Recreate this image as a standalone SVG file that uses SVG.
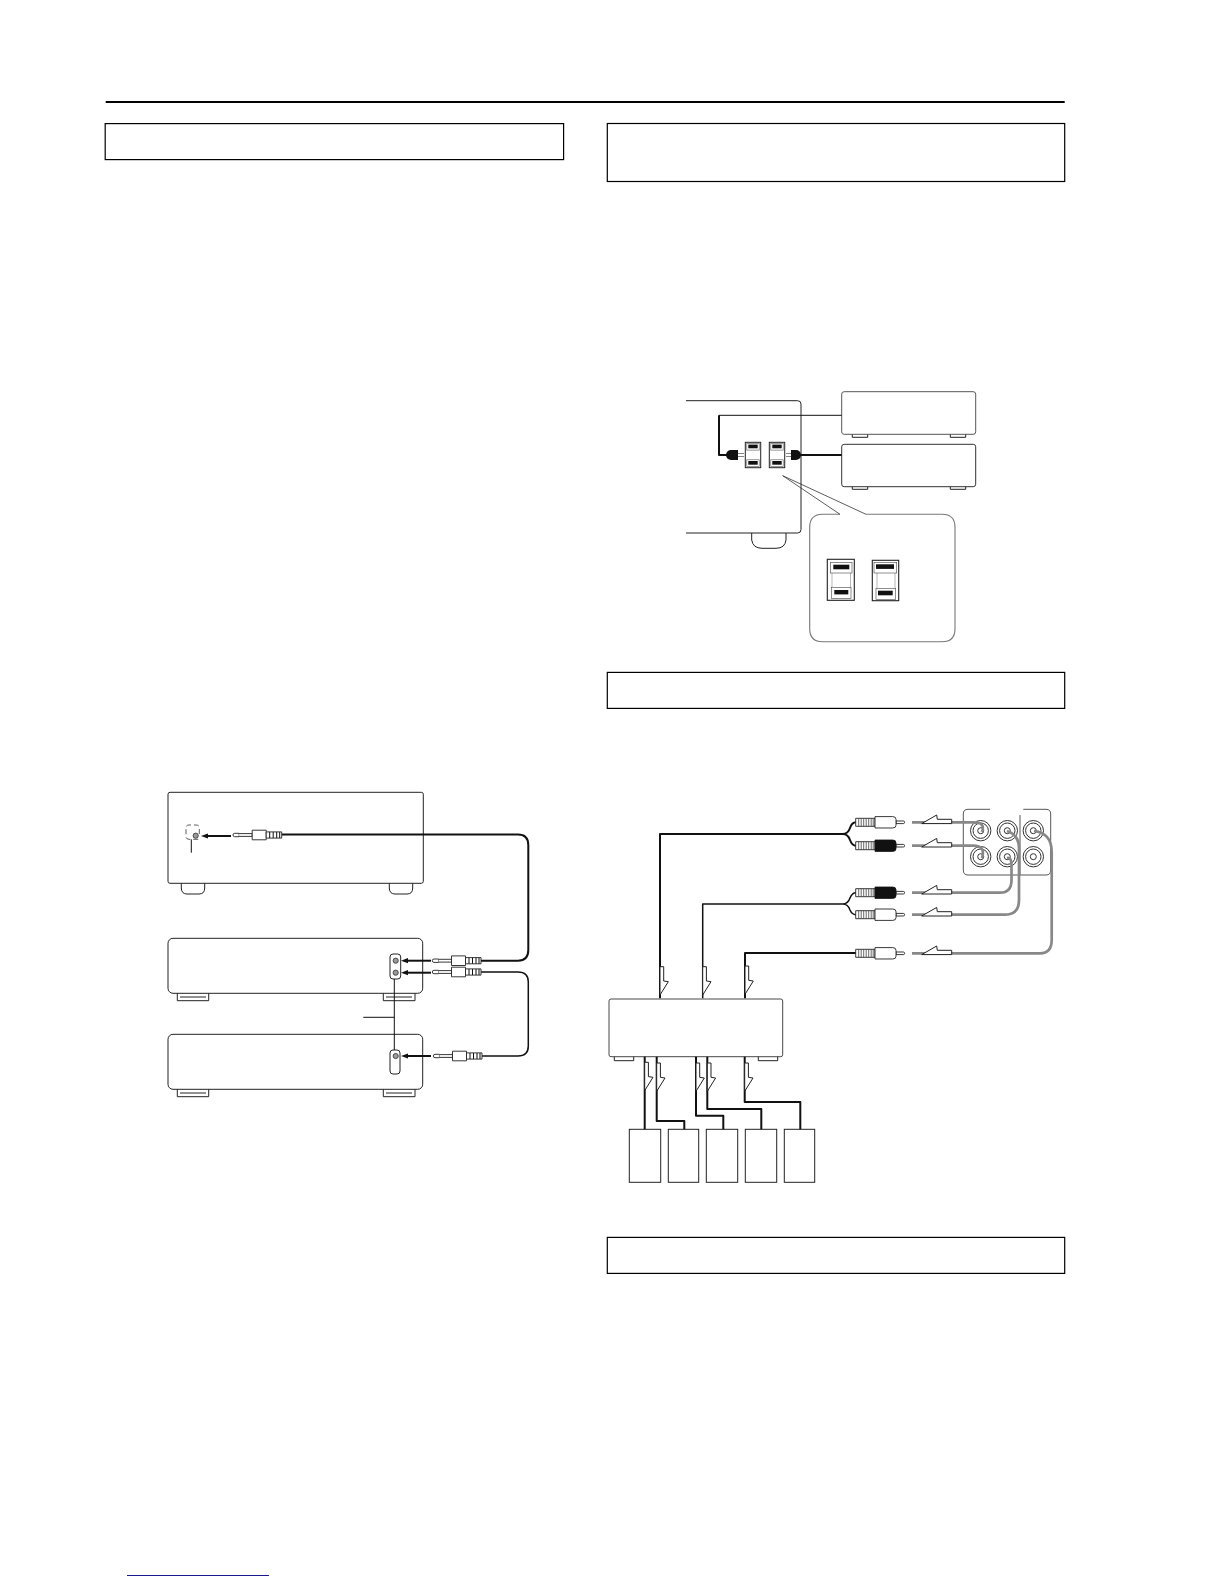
<svg xmlns="http://www.w3.org/2000/svg" width="1224" height="1584" viewBox="0 0 1224 1584">
<style>
.hd{fill:#fff;stroke:#000;stroke-width:1.2}
.b{fill:#fff;stroke:#222;stroke-width:1}
.t{fill:#fff;stroke:#222;stroke-width:.9}
.k{fill:none;stroke:#111;stroke-width:2;stroke-linejoin:round}
.th{fill:none;stroke:#111;stroke-width:1}
.g{fill:none;stroke:#888;stroke-width:2.7}
.fl{fill:#fff;stroke:#222;stroke-width:1;stroke-linejoin:round}
.ar{fill:#111;stroke:none}
</style>
<defs>
<g id="jplug">
<path class="t" d="M0,-1.7H4.5V1.7H0A1.7,1.7 0 0 1 0,-1.7Z"/>
<path class="t" d="M4.5,-1.4H17.5V1.4H4.5"/>
<path class="t" d="M17.5,-4.8H31.5V4.8H17.5Z"/>
<path class="t" d="M31.5,-3.1H47V3.1H31.5Z"/>
<path fill="none" stroke="#111" stroke-width="1" d="M35,-3V3M38.5,-3V3M42,-3V3M45,-3V3"/>
</g>
<g id="jarrow"><path class="ar" d="M0,-1H26V1H0Z"/><path class="ar" d="M-4,0L3,-2.6V2.6Z"/></g>
<g id="ribs">
<path class="t" d="M0,-4H19.3V4H0Z"/>
<path fill="none" stroke="#444" stroke-width=".8" d="M3,-4V4M5.5,-4V4M8,-4V4M10.5,-4V4M13,-4V4M15.5,-4V4M17.5,-4V4"/>
<path class="t" d="M40.3,-1.3H47.6A1.3,1.3 0 0 1 47.6,1.3H40.3Z"/>
</g>
<g id="rcaw"><use href="#ribs"/><path class="t" d="M19.3,-5.7H37Q40.3,-5.7 40.3,-3V3Q40.3,5.7 37,5.7H19.3Z"/></g>
<g id="rcab"><use href="#ribs"/><path fill="#111" stroke="#111" stroke-width=".8" d="M19.3,-5.7H37Q40.3,-5.7 40.3,-3V3Q40.3,5.7 37,5.7H19.3Z"/></g>
<polygon id="flh" class="fl" points="921.7,1.3 936.7,-7.3 937.3,-3 951.7,-3 951.7,1.3"/>
<polygon id="flv" class="fl" points="0,0 3.7,0 3.7,14.3 8.3,15 0,28.3"/>
<g id="jack"><circle r="10.2" fill="#fff" stroke="#333" stroke-width="1"/><circle r="7.7" fill="#fff" stroke="#333" stroke-width="1"/><circle r="3" fill="#fff" stroke="#333" stroke-width="1"/></g>
<g id="minisw">
<rect x="0" y="0" width="15.4" height="25.4" fill="#fff" stroke="#222" stroke-width="1"/>
<rect x="1.5" y="1.2" width="12.4" height="6.6" fill="#fff" stroke="#555" stroke-width=".6"/>
<rect x="1.5" y="17.5" width="12.4" height="6.6" fill="#fff" stroke="#555" stroke-width=".6"/>
<rect x="3" y="2.3" width="9.4" height="3.7" fill="#111"/>
<rect x="3" y="18.7" width="9.4" height="3.7" fill="#111"/>
</g>
</defs>
<rect width="1224" height="1584" fill="#fff"/>

<g id="page-rule"><rect x="105.7" y="101" width="959" height="2" fill="#000"/></g>
<g id="header-1"><rect class="hd" x="105.2" y="123.6" width="458.4" height="36"/></g>
<g id="header-2"><rect class="hd" x="607.3" y="123.5" width="457.4" height="58"/></g>
<g id="header-3"><rect class="hd" x="607.3" y="672.4" width="457.4" height="36"/></g>
<g id="header-4"><rect class="hd" x="607.3" y="1237.4" width="457.4" height="36"/></g>

<g id="unit-a">
<path class="b" d="M181.3,883V888Q181.5,894 187,894H199Q204.7,894 204.7,888V883M389.3,883V888Q389.5,894 395,894H407Q412.7,894 412.7,888V883"/>
<rect class="b" x="168" y="792.3" width="255.3" height="91" rx="2"/>
<path fill="none" stroke="#333" stroke-width=".8" stroke-dasharray="5 3" d="M199.3,834V828Q199.3,825 196,825H189Q186,825 186,828V836Q186,839.3 189,839.3H199.3"/>
<circle cx="195.7" cy="835.7" r="2.6" fill="#999" stroke="#333" stroke-width=".8"/>
<path class="th" d="M191.3,839.3V852.7"/>
</g>
<g id="unit-b">
<path class="b" d="M177.3,993V1000.7H208.7V993M383.3,993V1000.7H415V993"/>
<path class="b" d="M180,997H206M386,997H412"/>
<rect class="b" x="168" y="938.3" width="254.7" height="55" rx="5"/>
<rect class="b" x="390" y="954" width="10.7" height="25" rx="3"/>
<circle cx="395.7" cy="960.7" r="2.6" fill="#999" stroke="#333" stroke-width=".8"/>
<circle cx="395.7" cy="972.7" r="2.6" fill="#999" stroke="#333" stroke-width=".8"/>
</g>
<g id="unit-c">
<path class="b" d="M177.3,1089V1096.7H208.7V1089M383.3,1089V1096.7H415V1089"/>
<path class="b" d="M180,1093H206M386,1093H412"/>
<rect class="b" x="168" y="1034.3" width="254.7" height="55" rx="5"/>
<rect class="b" x="390" y="1050" width="10" height="24" rx="3"/>
<circle cx="395.7" cy="1056" r="2.6" fill="#999" stroke="#333" stroke-width=".8"/>
</g>

<g id="left-connectors">
<path class="k" d="M281.7,834.5H518Q528.3,834.5 528.3,845V950Q528.3,960.7 518,960.7H481"/>
<path class="k" style="stroke-width:1.5" d="M481,972H518Q528.3,972 528.3,982V1046Q528.3,1056 518,1056H482"/>
<path class="th" d="M394.3,979V1050M363.3,1017.3H394.3"/>
<use href="#jplug" x="234.7" y="835"/>
<use href="#jplug" x="434" y="960.7"/>
<use href="#jplug" x="434" y="972"/>
<use href="#jplug" x="435" y="1056"/>
<use href="#jarrow" x="205" y="836"/>
<use href="#jarrow" x="405" y="960.7"/>
<use href="#jarrow" x="405" y="972.7"/>
<use href="#jarrow" x="405" y="1056"/>
</g>

<g id="panel">
<path class="b" d="M751.7,533V540Q753,548.3 762,548.3H776Q785,548.3 786,540V533"/>
<path fill="none" stroke="#222" stroke-width="1" d="M686,400.7H797.5Q801,400.7 801,404V529.5Q801,533 797.5,533H686"/>
<use href="#minisw" x="745.3" y="442.3"/>
<use href="#minisw" x="769.3" y="442.3"/>
</g>
<g id="unit-d">
<path class="b" d="M852.3,434V437.3H867.7V434M950.3,434V437.3H965.7V434"/>
<rect x="841.7" y="391.7" width="134" height="42.6" rx="2.5" fill="#fff" stroke="#555" stroke-width="1"/>
</g>
<g id="unit-e">
<path class="b" d="M852.3,486V489.3H867.7V486M950.3,486V489.3H965.7V486"/>
<rect x="841.7" y="444.3" width="134" height="42.4" rx="2.5" fill="#fff" stroke="#333" stroke-width="1"/>
</g>
<g id="panel-connectors">
<path class="th" d="M841.7,415.3H719"/>
<path class="k" d="M719,415.3V455H731"/>
<path class="k" d="M841.7,455H799"/>
<path d="M731,450H738V460H731A5,5 0 0 1 731,450Z" fill="#111"/>
<path fill="none" stroke="#777" stroke-width=".9" d="M738,453.5H744M738,456.5H744"/>
<path d="M791,450H796A5,5 0 0 1 796,460H791Z" fill="#111"/>
<path fill="none" stroke="#777" stroke-width=".9" d="M786,453.5H791M786,456.5H791"/>
</g>
<g id="callout">
<path fill="#fff" stroke="#777" stroke-width="1.1" d="M866,514.3H942Q955,514.3 955,527.3V628.7Q955,641.7 942,641.7H822.7Q809.7,641.7 809.7,628.7V527.3Q809.7,514.3 822.7,514.3H840"/>
<path fill="none" stroke="#333" stroke-width=".8" d="M840,514.3L782.7,475.7L866,514.3"/>
<rect x="827.3" y="559.3" width="27" height="41" fill="#fff" stroke="#222" stroke-width="1.1"/>
<path fill="none" stroke="#999" stroke-width=".7" d="M832,573V587.3M850.5,573V587.3"/>
<rect x="830.3" y="562.3" width="21.7" height="10.7" fill="#fff" stroke="#444" stroke-width=".6"/>
<rect x="831.3" y="587.3" width="19.7" height="11" fill="#fff" stroke="#444" stroke-width=".6"/>
<rect x="833.3" y="564.7" width="16" height="4.6" fill="#111"/>
<rect x="834.3" y="590" width="14" height="4.4" fill="#111"/>
<rect x="872.3" y="560.3" width="26.4" height="40.4" fill="#fff" stroke="#222" stroke-width="1.1"/>
<path fill="none" stroke="#999" stroke-width=".7" d="M877,573V588M895,573V588"/>
<rect x="874" y="562.3" width="22.7" height="10.7" fill="#fff" stroke="#444" stroke-width=".6"/>
<rect x="876" y="588.3" width="19.7" height="11" fill="#fff" stroke="#444" stroke-width=".6"/>
<rect x="876" y="564.3" width="18" height="4.6" fill="#111"/>
<rect x="878" y="590.7" width="14.7" height="4.6" fill="#111"/>
</g>

<g id="jack-panel">
<path fill="none" stroke="#444" stroke-width=".9" d="M990,809.3H968Q963.3,809.3 963.3,814V870Q963.3,875 968,875H1046Q1050.7,875 1050.7,870V814Q1050.7,809.3 1046,809.3H1023.3M1020,815V875"/>
<use href="#jack" x="980.7" y="830.7"/>
<use href="#jack" x="1007.3" y="830.7"/>
<use href="#jack" x="1033.3" y="830.7"/>
<use href="#jack" x="980.7" y="856.7"/>
<use href="#jack" x="1007.3" y="856.7"/>
<use href="#jack" x="1033.3" y="856.7"/>
</g>
<g id="amp">
<path class="b" d="M614.3,1056V1060.7H633.7V1056M758.3,1056V1060.7H777.7V1056"/>
<rect x="609" y="999" width="173.7" height="57.7" rx="2" fill="#fff" stroke="#333" stroke-width=".9"/>
</g>
<g id="sp-1"><rect class="b" x="629.3" y="1129.3" width="31.4" height="53"/></g>
<g id="sp-2"><rect class="b" x="668.3" y="1129.3" width="30.4" height="53"/></g>
<g id="sp-3"><rect class="b" x="706.3" y="1129.3" width="31.4" height="53"/></g>
<g id="sp-4"><rect class="b" x="745.3" y="1129.3" width="31.4" height="53"/></g>
<g id="sp-5"><rect class="b" x="784.3" y="1129.3" width="30.4" height="53"/></g>

<g id="av-connectors">
<path class="k" d="M660,998.3V834H842.7M842.7,834Q848,834 850,828Q852,822.3 856,822.3M842.7,834Q848,834 850,840Q852,845.7 856,845.7"/>
<path class="k" style="stroke-width:1.5" d="M702.7,998.3V904H842.7M842.7,904Q848,904 850,898Q852,892.7 856,892.7M842.7,904Q848,904 850,910Q852,914.7 856,914.7"/>
<path class="k" d="M745,998.3V953H856"/>
<path class="k" d="M644.7,1056.7V1129.3"/>
<path class="k" d="M656.7,1056.7V1121H684.3V1129.3"/>
<path class="k" d="M696,1056.7V1115.7H723.3V1129.3"/>
<path class="k" d="M707.3,1056.7V1109H761.3V1129.3"/>
<path class="k" d="M744.7,1056.7V1102H800.3V1129.3"/>
<use href="#rcaw" x="855.7" y="822.3"/>
<use href="#rcab" x="855.7" y="845.7"/>
<use href="#rcab" x="855.7" y="892.7"/>
<use href="#rcaw" x="855.7" y="914.7"/>
<use href="#rcaw" x="855.7" y="953.3"/>
<path class="g" d="M912,822.3H973Q986,822.3 982,832"/>
<path class="g" d="M912,845.7H973Q986,845.7 982,858"/>
<path class="g" d="M912,892.7H1000Q1011.5,892.7 1011.5,880V865Q1011.5,857 1007,858"/>
<path class="g" d="M912,914.7H1005Q1019,914.7 1019,900V848Q1019,835 1007,831"/>
<path class="g" d="M912,953.3H1040Q1051.7,953.3 1051.7,940V852Q1051.7,833 1034,831"/>
<use href="#flh" y="822.3"/>
<use href="#flh" y="845.7"/>
<use href="#flh" y="892.7"/>
<use href="#flh" y="914.7"/>
<use href="#flh" y="953.3"/>
<use href="#flv" x="660" y="966.7"/>
<use href="#flv" x="702.7" y="966.7"/>
<use href="#flv" x="745" y="966"/>
<use href="#flv" x="644.7" y="1062.3"/>
<use href="#flv" x="656.7" y="1063"/>
<use href="#flv" x="696" y="1063"/>
<use href="#flv" x="707.3" y="1063"/>
<use href="#flv" x="744.7" y="1063"/>
</g>

<g id="link-rule"><rect x="127" y="1575" width="142" height="1" fill="#1a1a8c"/></g>
</svg>
